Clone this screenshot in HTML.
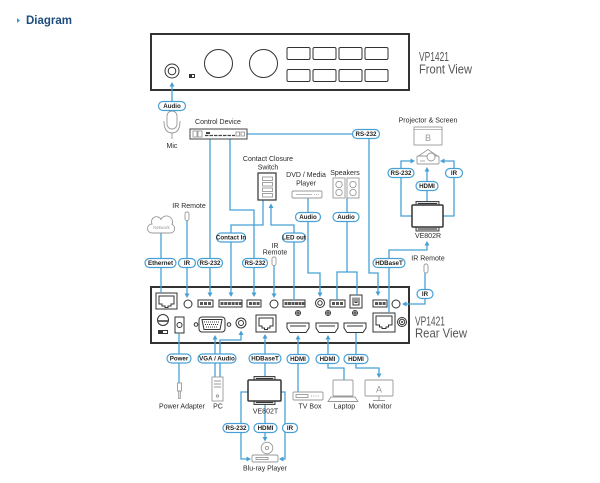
<!DOCTYPE html>
<html><head><meta charset="utf-8">
<style>
html,body{margin:0;padding:0;background:#fff;width:600px;height:483px;overflow:hidden}
svg{display:block}
text{font-family:"Liberation Sans",Arial,sans-serif}
.l{fill:none;stroke:#47a0d5;stroke-width:1.3}
.a{fill:#47a0d5;stroke:none}
.p{fill:#fff;stroke:#47a0d5;stroke-width:1.2}
.pt{font-size:6.2px;font-weight:bold;fill:#222;text-anchor:middle}
.lb{font-size:7px;fill:#2a2a2a;text-anchor:middle}
.g{fill:#fff;stroke:#999;stroke-width:0.9}
.gn{fill:none;stroke:#999;stroke-width:0.9}
.d{fill:#fff;stroke:#333;stroke-width:1}
.dn{fill:none;stroke:#333;stroke-width:1}
.k{fill:#555}
</style></head><body>
<svg width="600" height="483" viewBox="0 0 600 483">
<!-- title -->
<polygon points="17,18 17,23 20,20.5" fill="#3a9ad9"/>
<text x="26" y="24" font-size="11.5" font-weight="bold" fill="#1c4d7e">Diagram</text>

<!-- ============ FRONT PANEL ============ -->
<rect x="151" y="34" width="258" height="56" fill="#fff" stroke="#333" stroke-width="2"/>
<circle cx="172" cy="71" r="7" class="d" stroke-width="1.2"/>
<circle cx="172" cy="71" r="3.8" class="d" stroke-width="1"/>
<rect x="189" y="74" width="6" height="4" fill="#333"/>
<rect x="192" y="75" width="2" height="2" fill="#fff"/>
<circle cx="218.5" cy="63.5" r="14" class="d" stroke-width="1.2"/>
<circle cx="263.5" cy="63.5" r="14" class="d" stroke-width="1.2"/>
<g class="d" stroke-width="1.1">
<rect x="287" y="47.5" width="23" height="12" rx="1.5"/>
<rect x="313" y="47.5" width="23" height="12" rx="1.5"/>
<rect x="339" y="47.5" width="23" height="12" rx="1.5"/>
<rect x="365" y="47.5" width="23" height="12" rx="1.5"/>
<rect x="287" y="69.5" width="23" height="12" rx="1.5"/>
<rect x="313" y="69.5" width="23" height="12" rx="1.5"/>
<rect x="339" y="69.5" width="23" height="12" rx="1.5"/>
<rect x="365" y="69.5" width="23" height="12" rx="1.5"/>
</g>
<text x="419" y="61" font-size="12.5" fill="#555" textLength="30" lengthAdjust="spacingAndGlyphs">VP1421</text>
<text x="419" y="73.5" font-size="12.5" fill="#555" textLength="53" lengthAdjust="spacingAndGlyphs">Front View</text>

<!-- ============ REAR PANEL ============ -->
<rect x="151" y="287" width="258" height="56" fill="#fff" stroke="#333" stroke-width="2"/>
<!-- top row -->
<rect x="156" y="293" width="21" height="16" class="d" stroke-width="1.2"/>
<path d="M159,296 h15 v8 h-3 v2 h-3 v1.5 h-3 v-1.5 h-3 v-2 h-3 z" class="dn" stroke-width="0.8"/>
<circle cx="188" cy="304" r="4" class="d" stroke-width="1.7"/>
<g class="d" stroke-width="0.9">
<rect x="198" y="300" width="15" height="7"/>
<rect x="219" y="300" width="23" height="7"/>
<rect x="247" y="300" width="14" height="7"/>
<rect x="283" y="300" width="22" height="7"/>
<rect x="330" y="300" width="15" height="7"/>
<rect x="373" y="300" width="14" height="7"/>
</g>
<g class="k">
<rect x="200" y="302" width="3" height="3"/><rect x="204" y="302" width="3" height="3"/><rect x="208" y="302" width="3" height="3"/>
<rect x="220.5" y="302" width="3" height="3"/><rect x="224.2" y="302" width="3" height="3"/><rect x="227.9" y="302" width="3" height="3"/><rect x="231.6" y="302" width="3" height="3"/><rect x="235.3" y="302" width="3" height="3"/><rect x="239" y="302" width="2.4" height="3"/>
<rect x="249" y="302" width="3" height="3"/><rect x="252.8" y="302" width="3" height="3"/><rect x="256.6" y="302" width="3" height="3"/>
<rect x="284.5" y="302" width="3" height="3"/><rect x="288" y="302" width="3" height="3"/><rect x="291.5" y="302" width="3" height="3"/><rect x="295" y="302" width="3" height="3"/><rect x="298.5" y="302" width="3" height="3"/><rect x="302" y="302" width="2.4" height="3"/>
<rect x="332" y="302" width="3" height="3"/><rect x="336" y="302" width="3" height="3"/><rect x="340" y="302" width="3" height="3"/>
<rect x="375" y="302" width="3" height="3"/><rect x="378.8" y="302" width="3" height="3"/><rect x="382.6" y="302" width="3" height="3"/>
</g>
<circle cx="274" cy="304" r="4" class="d" stroke-width="1.7"/>
<circle cx="320" cy="303" r="4.5" class="d" stroke-width="1.2"/>
<circle cx="320" cy="303" r="2.2" class="d" stroke-width="0.9"/>
<rect x="350" y="295" width="12" height="13" class="d" stroke-width="1.2"/>
<path d="M353,297.5 v7.5 h6 v-7.5 M355,297.5 v5 h2 v-5" class="dn" stroke-width="0.8"/>
<circle cx="396" cy="304" r="4" class="d" stroke-width="2.2"/>
<!-- bottom row -->
<circle cx="163" cy="320" r="5.5" class="d"/>
<line x1="157.5" y1="321" x2="168.5" y2="321" stroke="#333" stroke-width="1.5"/>
<rect x="158" y="330" width="10" height="4" fill="#333"/>
<rect x="163" y="331" width="4" height="2" fill="#fff"/>
<rect x="175" y="317" width="9" height="16" class="d" stroke-width="1.2"/>
<circle cx="179.5" cy="325" r="2.5" class="d" stroke-width="0.9"/>
<circle cx="196" cy="324.5" r="1.8" class="d" stroke-width="0.9"/>
<circle cx="229" cy="324.5" r="1.8" class="d" stroke-width="0.9"/>
<rect x="199" y="317" width="26" height="15" rx="3" class="d" stroke-width="1.4"/>
<path d="M202,319.5 L222,319.5 L220,329.5 L204,329.5 Z" class="dn" stroke-width="0.8"/>
<g stroke="#333" stroke-width="1.1" stroke-dasharray="1 1">
<line x1="204" y1="322" x2="220" y2="322"/>
<line x1="205" y1="324.5" x2="219" y2="324.5"/>
<line x1="206" y1="327" x2="218" y2="327"/>
</g>
<circle cx="241" cy="323" r="5" class="d" stroke-width="1.2"/>
<circle cx="241" cy="323" r="2.5" class="d" stroke-width="0.9"/>
<rect x="256" y="315" width="20" height="17" class="d" stroke-width="1.2"/>
<path d="M259,318 h14 v8 h-3 v2 h-2.5 v1.5 h-3 v-1.5 h-2.5 v-2 h-3 z" class="dn" stroke-width="0.8"/>
<g class="d" stroke-width="0.8">
<circle cx="298" cy="313" r="2.5"/><circle cx="328" cy="313" r="2.5"/><circle cx="355" cy="313" r="2.5"/>
</g>
<path d="M296,313 h4 M298,311 v4 M326,313 h4 M328,311 v4 M353,313 h4 M355,311 v4" class="dn" stroke-width="0.7"/>
<g class="d" stroke-width="1.3">
<path d="M287,323 h22 v5 l-3,4.5 h-16 l-3,-4.5 z"/>
<path d="M316,323 h22 v5 l-3,4.5 h-16 l-3,-4.5 z"/>
<path d="M344,323 h22 v5 l-3,4.5 h-16 l-3,-4.5 z"/>
</g>
<path d="M290,326 h16 M319,326 h16 M347,326 h16" class="dn" stroke-width="0.7"/>
<rect x="373" y="313" width="22" height="19" class="d" stroke-width="1.2"/>
<path d="M376,316 h16 v9 h-3.5 v2 h-2.5 v1.5 h-4 v-1.5 h-2.5 v-2 h-3.5 z" class="dn" stroke-width="0.8"/>
<circle cx="402" cy="322" r="4.5" class="d"/>
<circle cx="402" cy="322" r="2.7" class="d" stroke-width="0.8"/>
<circle cx="402" cy="322" r="1" fill="#333"/>
<text x="415" y="325.5" font-size="12.5" fill="#555" textLength="30" lengthAdjust="spacingAndGlyphs">VP1421</text>
<text x="415" y="337.5" font-size="12.5" fill="#555" textLength="52" lengthAdjust="spacingAndGlyphs">Rear View</text>

<!-- ============ CONNECTOR LINES ============ -->
<g class="l">
<line x1="172" y1="86" x2="172" y2="112"/>
<polyline points="247,134 369,134 369,273 378,273 378,293"/>
<line x1="210" y1="139" x2="210" y2="294"/>
<polyline points="230,139 230,210 254,210 254,294"/>
<polyline points="263,200 263,225 231,225 231,294"/>
<polyline points="294,300 294,225 271,225 271,207"/>
<line x1="161" y1="233" x2="161" y2="293"/>
<line x1="187" y1="220" x2="187" y2="295"/>
<line x1="274" y1="265" x2="274" y2="295"/>
<polyline points="308,198 308,273 320,273 320,294"/>
<polyline points="347,198 347,272"/>
<polyline points="337,300 337,272 357,272 357,295"/>
<polyline points="389,313 389,250 427,250 427,244"/>
<polyline points="412,216 401,216 401,161 411,161"/>
<line x1="427" y1="202" x2="427" y2="170"/>
<polyline points="443,216 454,216 454,161 444,161"/>
<polyline points="425,273 425,304 406,304"/>
<line x1="179" y1="333" x2="179" y2="383"/>
<line x1="215" y1="377" x2="215" y2="338"/>
<polyline points="220,377 220,340 241,340 241,334"/>
<line x1="265" y1="377" x2="265" y2="337"/>
<line x1="298" y1="392" x2="298" y2="338"/>
<polyline points="328,338 328,368 344,368 344,380"/>
<polyline points="356,333 356,368 379,368 379,374"/>
<polyline points="248,392 241,392 241,459 248,459"/>
<line x1="265" y1="405" x2="265" y2="438"/>
<polyline points="281,392 285,392 285,459 282,459"/>
</g>
<g class="a">
<polygon points="172,82 169.5,86.5 174.5,86.5"/>
<polygon points="378,296 375.5,291.5 380.5,291.5"/>
<polygon points="210,297 207.5,292.5 212.5,292.5"/>
<polygon points="254,297 251.5,292.5 256.5,292.5"/>
<polygon points="231,297 228.5,292.5 233.5,292.5"/>
<polygon points="271,203.5 268.5,208 273.5,208"/>
<polygon points="187,298 184.5,293.5 189.5,293.5"/>
<polygon points="274,298 271.5,293.5 276.5,293.5"/>
<polygon points="320,297 317.5,292.5 322.5,292.5"/>
<polygon points="427,241 424.5,245.5 429.5,245.5"/>
<polygon points="415,161 410.5,158.5 410.5,163.5"/>
<polygon points="427,167 424.5,171.5 429.5,171.5"/>
<polygon points="440,161 444.5,158.5 444.5,163.5"/>
<polygon points="402,304 406.5,301.5 406.5,306.5"/>
<polygon points="215,335 212.5,339.5 217.5,339.5"/>
<polygon points="241,330.5 238.5,335 243.5,335"/>
<polygon points="265,334 262.5,338.5 267.5,338.5"/>
<polygon points="298,335 295.5,339.5 300.5,339.5"/>
<polygon points="328,335 325.5,339.5 330.5,339.5"/>
<polygon points="379,378 376.5,373.5 381.5,373.5"/>
<polygon points="251,459 246.5,456.5 246.5,461.5"/>
<polygon points="265,441.5 262.5,437 267.5,437"/>
<polygon points="279,459 283.5,456.5 283.5,461.5"/>
</g>

<!-- ============ DEVICES ============ -->
<rect x="167" y="111" width="10" height="18" rx="5" class="g"/>
<path d="M164,121 Q164,133 172,133 Q180,133 180,121 M172,133 V139" class="gn"/>
<text x="172" y="148" class="lb">Mic</text>
<text x="218" y="124" class="lb">Control Device</text>
<rect x="190" y="129" width="57" height="10" fill="#fff" stroke="#444" stroke-width="1"/>
<rect x="193" y="131" width="4" height="6" class="g" stroke="#666"/>
<rect x="198" y="131" width="4" height="6" class="g" stroke="#666"/>
<rect x="206" y="132" width="4" height="2" fill="#444"/>
<line x1="205" y1="135.5" x2="235" y2="135.5" stroke="#444" stroke-width="1.3" stroke-dasharray="3.5 1"/>
<rect x="236" y="132" width="3.5" height="4" class="g" stroke="#555"/>
<rect x="241" y="132" width="3.5" height="4" class="g" stroke="#555"/>
<path d="M152,233 L171,233 A4.5,4.5 0 0 0 172,224.5 A6,6 0 0 0 161,219.5 A5,5 0 0 0 152,224 A4.5,4.5 0 0 0 152,233 Z" class="g" stroke="#aaa"/>
<text x="161.5" y="229" font-size="4.5" fill="#999" text-anchor="middle">Network</text>
<text x="189" y="208" class="lb">IR Remote</text>
<rect x="185" y="212" width="4" height="8.5" rx="1.8" class="g"/>
<text x="268" y="161" class="lb">Contact Closure</text>
<text x="268" y="169.5" class="lb">Switch</text>
<rect x="258" y="173" width="18" height="27" fill="#fff" stroke="#333" stroke-width="1.2"/>
<g class="g" stroke="#555" stroke-width="0.7">
<rect x="262.5" y="177" width="10" height="3.5"/>
<rect x="262.5" y="182.5" width="10" height="3.5"/>
<rect x="262.5" y="188" width="10" height="3.5"/>
<rect x="262.5" y="193.5" width="10" height="3.5"/>
</g>
<text x="275" y="248" class="lb">IR</text>
<text x="275" y="254.5" class="lb">Remote</text>
<rect x="272" y="257" width="4" height="8.5" rx="1.8" class="g"/>
<text x="306" y="177" class="lb">DVD / Media</text>
<text x="306" y="185.5" class="lb">Player</text>
<rect x="292" y="191" width="30" height="7" rx="1.5" class="g"/>
<line x1="296" y1="194.5" x2="312" y2="194.5" stroke="#bbb" stroke-width="1"/>
<line x1="314" y1="194.5" x2="319" y2="194.5" stroke="#bbb" stroke-width="1" stroke-dasharray="1 1"/>
<text x="345" y="175" class="lb">Speakers</text>
<rect x="333" y="178" width="12" height="20" class="g" stroke="#888"/>
<rect x="347" y="178" width="12" height="20" class="g" stroke="#888"/>
<g class="gn" stroke="#888">
<circle cx="339" cy="184.5" r="3.2"/><circle cx="339" cy="192.5" r="3.2"/>
<circle cx="353" cy="184.5" r="3.2"/><circle cx="353" cy="192.5" r="3.2"/>
</g>
<text x="428" y="122.5" class="lb">Projector &amp; Screen</text>
<rect x="414" y="127" width="28" height="18" class="g"/>
<line x1="414.5" y1="129.5" x2="441.5" y2="129.5" stroke="#bbb" stroke-width="1"/>
<text x="428" y="141" font-size="9" fill="#999" text-anchor="middle">B</text>
<path d="M417,157 L428,149.5 L439,157" class="gn" stroke="#aaa"/>
<rect x="417" y="156" width="22" height="8" rx="1" class="g"/>
<line x1="420" y1="161" x2="425" y2="161" stroke="#999" stroke-width="0.8"/>
<circle cx="431" cy="157" r="4" class="g"/>
<rect x="416" y="201.5" width="23" height="4" fill="#ddd" stroke="#333" stroke-width="0.9"/>
<rect x="416" y="227" width="23" height="4" fill="#ddd" stroke="#333" stroke-width="0.9"/>
<rect x="412" y="205" width="31" height="22" rx="1" fill="#fff" stroke="#333" stroke-width="1.5"/>
<line x1="418" y1="203.5" x2="437" y2="203.5" stroke="#333" stroke-width="1"/>
<line x1="418" y1="229" x2="437" y2="229" stroke="#333" stroke-width="1"/>
<text x="428" y="238" class="lb">VE802R</text>
<text x="428" y="260.5" class="lb">IR Remote</text>
<rect x="424" y="264" width="4" height="9" rx="1.8" class="g"/>

<rect x="177.5" y="383" width="4" height="8" class="g" stroke="#888"/>
<rect x="178.7" y="391" width="1.6" height="7.5" class="g" stroke="#888" stroke-width="0.7"/>
<text x="182" y="408.5" class="lb">Power Adapter</text>
<rect x="212" y="377" width="11" height="24" class="g" stroke="#888"/>
<path d="M214,381 h7 M214,384 h7 M214,387 h7" class="gn" stroke="#888" stroke-width="0.7"/>
<circle cx="217.5" cy="396" r="1.2" class="gn" stroke="#888" stroke-width="0.7"/>
<text x="218" y="408.5" class="lb">PC</text>
<rect x="254" y="376.5" width="21" height="4" fill="#ddd" stroke="#333" stroke-width="0.9"/>
<rect x="254" y="400.5" width="21" height="4" fill="#ddd" stroke="#333" stroke-width="0.9"/>
<rect x="248" y="380" width="33" height="21" rx="1" fill="#fff" stroke="#333" stroke-width="1.5"/>
<line x1="256" y1="378.5" x2="273" y2="378.5" stroke="#333" stroke-width="1"/>
<line x1="256" y1="402.5" x2="273" y2="402.5" stroke="#333" stroke-width="1"/>
<text x="265.5" y="413.5" class="lb">VE802T</text>
<rect x="293" y="392" width="30" height="8" rx="1" class="g"/>
<rect x="296" y="394.5" width="12" height="3" class="g" stroke="#aaa" stroke-width="0.7"/>
<line x1="311" y1="396" x2="320" y2="396" stroke="#aaa" stroke-width="1" stroke-dasharray="1 1.2"/>
<text x="310" y="408.5" class="lb">TV Box</text>
<rect x="333" y="380" width="20" height="16" rx="1" class="g"/>
<path d="M328,401.5 L331,397 L355,397 L358,401.5 Z" class="g"/>
<text x="344.5" y="408.5" class="lb">Laptop</text>
<rect x="365" y="380" width="28" height="16" rx="1" class="g"/>
<text x="379" y="392.5" font-size="9" fill="#999" text-anchor="middle">A</text>
<path d="M379,396 V400 M373,400.5 H385" class="gn"/>
<text x="380" y="408.5" class="lb">Monitor</text>
<circle cx="267" cy="448" r="5.8" class="g"/>
<circle cx="267" cy="448" r="1.6" class="g"/>
<rect x="252" y="455" width="26" height="7" rx="1.5" class="g"/>
<rect x="256" y="457.5" width="12" height="2" class="g" stroke="#aaa" stroke-width="0.6"/>
<text x="265" y="470.5" class="lb">Blu-ray Player</text>

<!-- ============ PILLS ============ -->
<g>
<rect class="p" x="158.5" y="101.5" width="27" height="9" rx="4.5"/><text class="pt" x="172" y="108.2">Audio</text>
<rect class="p" x="352.5" y="129.5" width="27" height="9" rx="4.5"/><text class="pt" x="366" y="136.2">RS-232</text>
<rect class="p" x="145" y="258.5" width="31" height="9" rx="4.5"/><text class="pt" x="160.5" y="265.2">Ethernet</text>
<rect class="p" x="178.5" y="258.5" width="17" height="9" rx="4.5"/><text class="pt" x="187" y="265.2">IR</text>
<rect class="p" x="197.5" y="258.5" width="25" height="9" rx="4.5"/><text class="pt" x="210" y="265.2">RS-232</text>
<rect class="p" x="216.5" y="233" width="29" height="9" rx="4.5"/><text class="pt" x="231" y="239.7" font-size="5.6">Contact In</text>
<rect class="p" x="242.5" y="258.5" width="25" height="9" rx="4.5"/><text class="pt" x="255" y="265.2">RS-232</text>
<rect class="p" x="282.5" y="233" width="23" height="9" rx="4.5"/><text class="pt" x="294" y="239.7" font-size="5.6">LED out</text>
<rect class="p" x="295.5" y="212.5" width="25" height="9" rx="4.5"/><text class="pt" x="308" y="219.2">Audio</text>
<rect class="p" x="333" y="212.5" width="26" height="9" rx="4.5"/><text class="pt" x="346" y="219.2">Audio</text>
<rect class="p" x="373" y="258.5" width="32" height="9" rx="4.5"/><text class="pt" x="389" y="265.2">HDBaseT</text>
<rect class="p" x="388" y="168.5" width="26" height="9" rx="4.5"/><text class="pt" x="401" y="175.2">RS-232</text>
<rect class="p" x="416" y="181.5" width="22" height="9" rx="4.5"/><text class="pt" x="427" y="188.2">HDMI</text>
<rect class="p" x="445.5" y="168.5" width="17" height="9" rx="4.5"/><text class="pt" x="454" y="175.2">IR</text>
<rect class="p" x="417" y="289.5" width="16" height="9" rx="4.5"/><text class="pt" x="425" y="296.2">IR</text>
<rect class="p" x="167" y="354" width="24" height="9" rx="4.5"/><text class="pt" x="179" y="360.7">Power</text>
<rect class="p" x="198" y="354" width="38" height="9" rx="4.5"/><text class="pt" x="217" y="360.7">VGA / Audio</text>
<rect class="p" x="249" y="354" width="32" height="9" rx="4.5"/><text class="pt" x="265" y="360.7">HDBaseT</text>
<rect class="p" x="287" y="354.5" width="22" height="9" rx="4.5"/><text class="pt" x="298" y="361.2">HDMI</text>
<rect class="p" x="316" y="354.5" width="23" height="9" rx="4.5"/><text class="pt" x="327.5" y="361.2">HDMI</text>
<rect class="p" x="344" y="354.5" width="24" height="9" rx="4.5"/><text class="pt" x="356" y="361.2">HDMI</text>
<rect class="p" x="223" y="423.5" width="26" height="9" rx="4.5"/><text class="pt" x="236" y="430.2">RS-232</text>
<rect class="p" x="254" y="423.5" width="23" height="9" rx="4.5"/><text class="pt" x="265.5" y="430.2">HDMI</text>
<rect class="p" x="282.5" y="423.5" width="15" height="9" rx="4.5"/><text class="pt" x="290" y="430.2">IR</text>
</g>
</svg>
</body></html>
